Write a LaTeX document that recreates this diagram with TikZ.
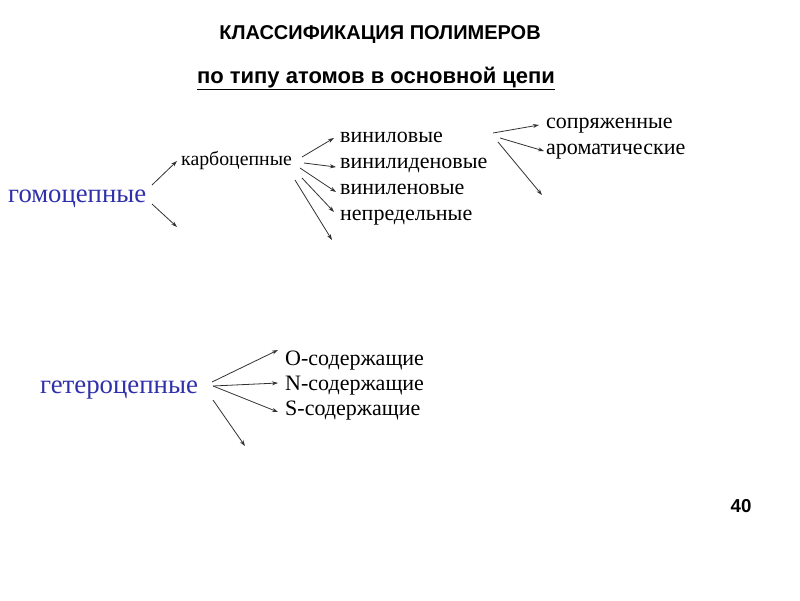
\documentclass[tikz,border=0pt]{standalone}
\usepackage{fontspec}
\setmainfont{Liberation Serif}
\newfontfamily\hfont{Liberation Sans}
\usetikzlibrary{arrows.meta}
\definecolor{homblue}{RGB}{48,48,170}
\definecolor{arrgray}{RGB}{50,50,50}
\begin{document}
\begin{tikzpicture}[x=1pt,y=-1pt,
  lbl/.style={anchor=base west,inner sep=0pt,font=\fontsize{22}{22}\selectfont},
  big/.style={anchor=base west,inner sep=0pt,text=homblue},
  arr/.style={draw=arrgray,line width=0.8pt,-{Stealth[length=6pt,width=4pt]}}]
\useasboundingbox[fill=white] (0,0) rectangle (800,600);
\node[anchor=base,inner sep=0pt,font=\hfont\bfseries\fontsize{20}{20}\selectfont] (title) at (380,39) {КЛАССИФИКАЦИЯ ПОЛИМЕРОВ};
\node[anchor=base,inner sep=0pt,font=\hfont\bfseries\fontsize{22}{22}\selectfont] (sub) at (376,83) {\underline{по типу атомов в основной цепи}};
% homo chain
\node[big,font=\fontsize{26.7}{27}\selectfont] (homo) at (8,202) {гомоцепные};
\node[lbl,font=\fontsize{19.8}{20}\selectfont] (carb) at (181,165) {карбоцепные};
\node[lbl] (vin) at (340,142) {виниловые};
\node[lbl] (vinid) at (340,168) {винилиденовые};
\node[lbl] (vinil) at (340,194) {виниленовые};
\node[lbl] (nepr) at (340,220) {непредельные};
\node[lbl] (sopr) at (546,128) {сопряженные};
\node[lbl] (arom) at (546,154) {ароматические};
% hetero chain
\node[big,font=\fontsize{26.8}{27}\selectfont] (hetero) at (40,393) {гетероцепные};
\node[lbl] (osod) at (285,365) {O-содержащие};
\node[lbl] (nsod) at (285,390) {N-содержащие};
\node[lbl] (ssod) at (285,415) {S-содержащие};
\node[anchor=base,inner sep=0pt,font=\hfont\bfseries\fontsize{18.7}{19}\selectfont] (num) at (741,512) {40};
% coordinates
\coordinate (h1) at (152,185); \coordinate (h2) at (152,204); \coordinate (h2e) at (177,227);
\coordinate (c1) at (302,157); \coordinate (c2) at (304,163); \coordinate (c3) at (300,168);
\coordinate (c4) at (302,178); \coordinate (c5) at (295,180); \coordinate (c5e) at (332,240);
\coordinate (v1) at (493,133); \coordinate (v2) at (500,138); \coordinate (v3) at (498,142); \coordinate (v3e) at (542,195);
\coordinate (g1) at (212,382); \coordinate (g2) at (213,386); \coordinate (g3) at (213,400); \coordinate (g3e) at (245,446);
% arrows
\draw[arr] (h1) -- ([xshift=-4pt,yshift=4pt]carb.base west);
\draw[arr] (h2) -- (h2e);
\draw[arr] (c1) -- ([xshift=-6pt,yshift=4pt]vin.base west);
\draw[arr] (c2) -- ([xshift=-4pt,yshift=1pt]vinid.base west);
\draw[arr] (c3) -- ([xshift=-4pt,yshift=2pt]vinil.base west);
\draw[arr] (c4) -- ([xshift=-6pt,yshift=8pt]nepr.base west);
\draw[arr] (c5) -- (c5e);
\draw[arr] (v1) -- ([xshift=-7pt,yshift=3pt]sopr.base west);
\draw[arr] (v2) -- ([xshift=-2pt,yshift=3pt]arom.base west);
\draw[arr] (v3) -- (v3e);
\draw[arr] (g1) -- ([xshift=-7pt,yshift=15pt]osod.base west);
\draw[arr] (g2) -- ([xshift=-7pt,yshift=7pt]nsod.base west);
\draw[arr] (g2) -- ([xshift=-7pt,yshift=3pt]ssod.base west);
\draw[arr] (g3) -- (g3e);
\end{tikzpicture}
\end{document}
